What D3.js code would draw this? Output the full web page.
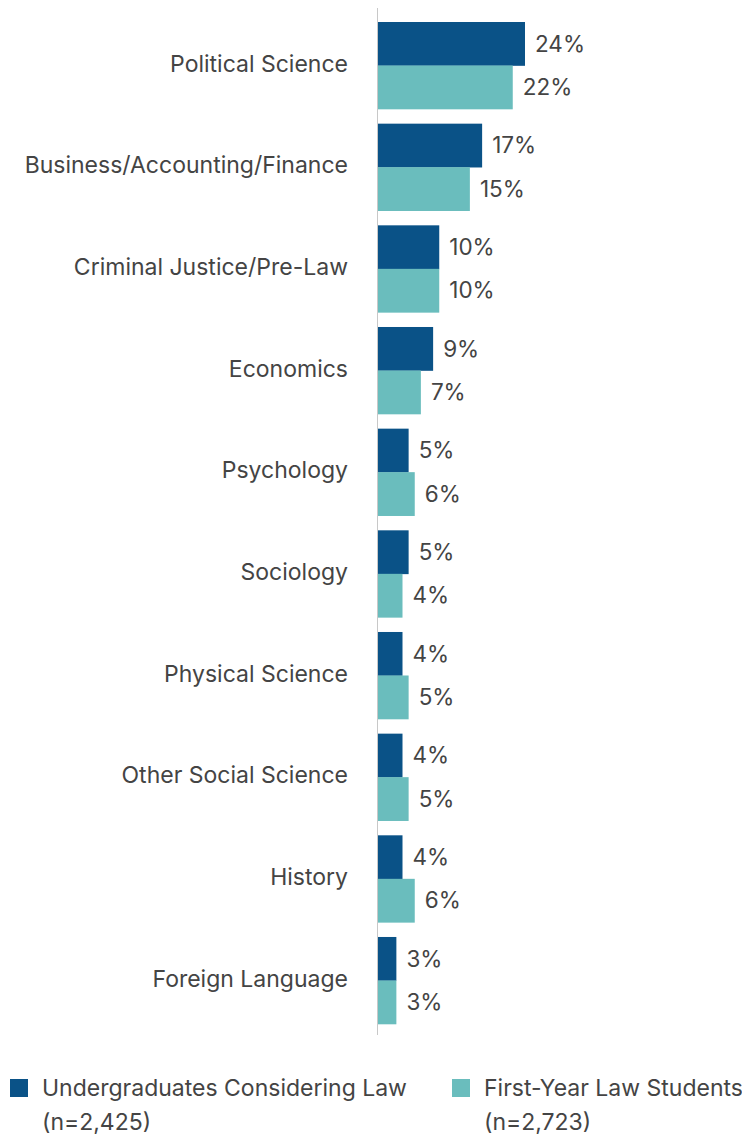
<!DOCTYPE html>
<html><head><meta charset="utf-8">
<script src="https://cdn.jsdelivr.net/npm/d3@7"></script>
<style>body{margin:0;background:#fff}svg{display:block}text{font-family:Inter,Roboto,"Noto Sans",sans-serif;fill:#444}</style>
</head><body>
<svg id="c" width="742" height="1138"></svg>
<script>
const categories = ["Political Science","Business/Accounting/Finance","Criminal Justice/Pre-Law","Economics","Psychology","Sociology","Physical Science","Other Social Science","History","Foreign Language"];
const undergrad = [24,17,10,9,5,5,4,4,4,3];
const firstYear = [22,15,10,7,6,4,5,5,6,3];
const seriesNames = ["Undergraduates Considering Law","First-Year Law Students"];
const seriesN = ["(n=2,425)","(n=2,723)"];
const colors = ["#0a5287","#6abdbd"];

const svg = d3.select("#c");
const x = d3.scaleLinear().domain([0,24]).range([378,525]);
const y = d3.scaleBand().domain(categories).range([22,1024]).paddingInner(0.144).paddingOuter(0);
const sub = d3.scaleBand().domain([0,1]).range([0,y.bandwidth()]);
const series = [undergrad, firstYear];

categories.forEach((c,i)=>{
  const g = svg.append("g").attr("transform",`translate(0,${y(c)})`);
  series.forEach((s,j)=>{
    g.append("rect").attr("x",x(0)).attr("y",sub(j)).attr("width",x(s[i])-x(0)).attr("height",sub.bandwidth()+0.3).attr("fill",colors[j]);
    g.append("text").attr("x",x(s[i])+10).attr("y",sub(j)+sub.bandwidth()/2).attr("dy","0.35em").attr("font-size",22.5).text(s[i]+"%");
  });
  g.append("text").attr("x",348).attr("y",y.bandwidth()/2 - 2).attr("dy","0.35em").attr("text-anchor","end").attr("font-size",23).text(c);
});
svg.append("line").attr("x1",377.5).attr("x2",377.5).attr("y1",8).attr("y2",1035).attr("stroke","#c8c8c8").attr("stroke-width",1);

const lx = [10,452];
seriesNames.forEach((n,j)=>{
  svg.append("rect").attr("x",lx[j]).attr("y",1079).attr("width",18).attr("height",18).attr("fill",colors[j]);
  svg.append("text").attr("x",lx[j]+32).attr("y",1088).attr("dy","0.35em").attr("font-size",23).text(n);
  svg.append("text").attr("x",lx[j]+32).attr("y",1122).attr("dy","0.35em").attr("font-size",23).text(seriesN[j]);
});
</script>
</body></html>
